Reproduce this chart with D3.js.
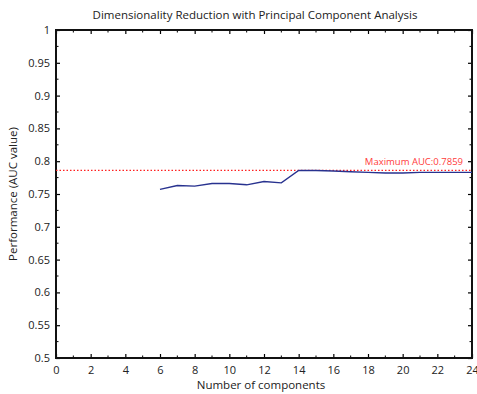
<!DOCTYPE html>
<html>
<head>
<meta charset="utf-8">
<script src="https://d3js.org/d3.v7.min.js"></script>
<style>
  body { margin: 0; background: #fff; }
  text { font-family: "Open Sans", "Noto Sans", sans-serif; }
</style>
</head>
<body>
<svg id="chart" width="477" height="394"></svg>
<script>
// data
var components = [6, 7, 8, 9, 10, 11, 12, 13, 14, 15, 16, 17, 18, 19, 20, 21, 22, 23, 24];
var aucValues = [0.757, 0.763, 0.762, 0.766, 0.766, 0.764, 0.769, 0.767, 0.7859, 0.7859,
                 0.785, 0.784, 0.783, 0.782, 0.782, 0.783, 0.783, 0.783, 0.783];
var maxAuc = 0.7859;
var xTicks = [0, 2, 4, 6, 8, 10, 12, 14, 16, 18, 20, 22, 24];
var yTicks = [0.5, 0.55, 0.6, 0.65, 0.7, 0.75, 0.8, 0.85, 0.9, 0.95, 1];

// plot box (window.top is reserved, so no "top" here)
var pLeft = 56, pRight = 472, pTop = 30, pBottom = 358;
var svg = d3.select("#chart");

var sx = d3.scaleLinear().domain([0, 24]).range([pLeft, pRight]);
var sy = d3.scaleLinear().domain([0.5, 1]).range([pBottom, pTop]);

var minorX = d3.range(1, 24, 2);
var minorY = d3.range(0.525, 1, 0.05);

// minor ticks (inward, all four sides)
var g = svg.append("g").attr("stroke", "#000").attr("stroke-width", 1);
minorX.forEach(function (v) {
  g.append("line").attr("x1", sx(v)).attr("x2", sx(v)).attr("y1", pBottom).attr("y2", pBottom - 2.5);
  g.append("line").attr("x1", sx(v)).attr("x2", sx(v)).attr("y1", pTop).attr("y2", pTop + 2.5);
});
minorY.forEach(function (v) {
  g.append("line").attr("y1", sy(v)).attr("y2", sy(v)).attr("x1", pLeft).attr("x2", pLeft + 2.5);
  g.append("line").attr("y1", sy(v)).attr("y2", sy(v)).attr("x1", pRight).attr("x2", pRight - 2.5);
});

// major axes
svg.append("g").attr("transform", "translate(0," + pBottom + ")")
  .call(d3.axisBottom(sx).tickValues(xTicks).tickSizeInner(-4).tickSizeOuter(0).tickPadding(8));
svg.append("g").attr("transform", "translate(0," + pTop + ")")
  .call(d3.axisTop(sx).tickValues(xTicks).tickSizeInner(-4).tickSizeOuter(0).tickFormat(""));
svg.append("g").attr("transform", "translate(" + pLeft + ",0)")
  .call(d3.axisLeft(sy).tickValues(yTicks).tickSizeInner(-4).tickSizeOuter(0).tickPadding(6)
    .tickFormat(function (d) { return String(+d.toFixed(2)); }));
svg.append("g").attr("transform", "translate(" + pRight + ",0)")
  .call(d3.axisRight(sy).tickValues(yTicks).tickSizeInner(-4).tickSizeOuter(0).tickFormat(""));

svg.selectAll(".domain").remove();
svg.selectAll(".tick line").attr("stroke", "#000").attr("stroke-width", 1.2);
svg.selectAll(".tick text").attr("font-size", 11).attr("fill", "#222")
  .attr("font-family", "'Open Sans', 'Noto Sans', sans-serif");

// frame
svg.append("rect").attr("x", pLeft).attr("y", pTop).attr("width", pRight - pLeft).attr("height", pBottom - pTop)
  .attr("fill", "none").attr("stroke", "#111").attr("stroke-width", 2);

// max line
svg.append("line").attr("x1", pLeft).attr("x2", pRight).attr("y1", sy(maxAuc)).attr("y2", sy(maxAuc))
  .attr("stroke", "#ff2020").attr("stroke-width", 1.2).attr("stroke-dasharray", "1.5,2");

// AUC curve
var line = d3.line().x(function (d, i) { return sx(components[i]); }).y(function (d) { return sy(d); });
svg.append("path").datum(aucValues).attr("d", line)
  .attr("fill", "none").attr("stroke", "#28328f").attr("stroke-width", 1.4);

svg.append("text").attr("x", 463).attr("y", sy(maxAuc) - 5).attr("text-anchor", "end")
  .attr("font-size", 9.5).attr("fill", "#ff3b3b").text("Maximum AUC:" + maxAuc);

// titles
svg.append("text").attr("x", 255).attr("y", 19).attr("text-anchor", "middle")
  .attr("font-size", 11.5).attr("fill", "#222").text("Dimensionality Reduction with Principal Component Analysis");
svg.append("text").attr("x", 261).attr("y", 389).attr("text-anchor", "middle")
  .attr("font-size", 11.5).attr("fill", "#222").text("Number of components");
svg.append("text").attr("transform", "translate(17," + (pTop + pBottom) / 2 + ") rotate(-90)")
  .attr("text-anchor", "middle").attr("font-size", 11.5).attr("fill", "#222").text("Performance (AUC value)");
</script>
</body>
</html>
